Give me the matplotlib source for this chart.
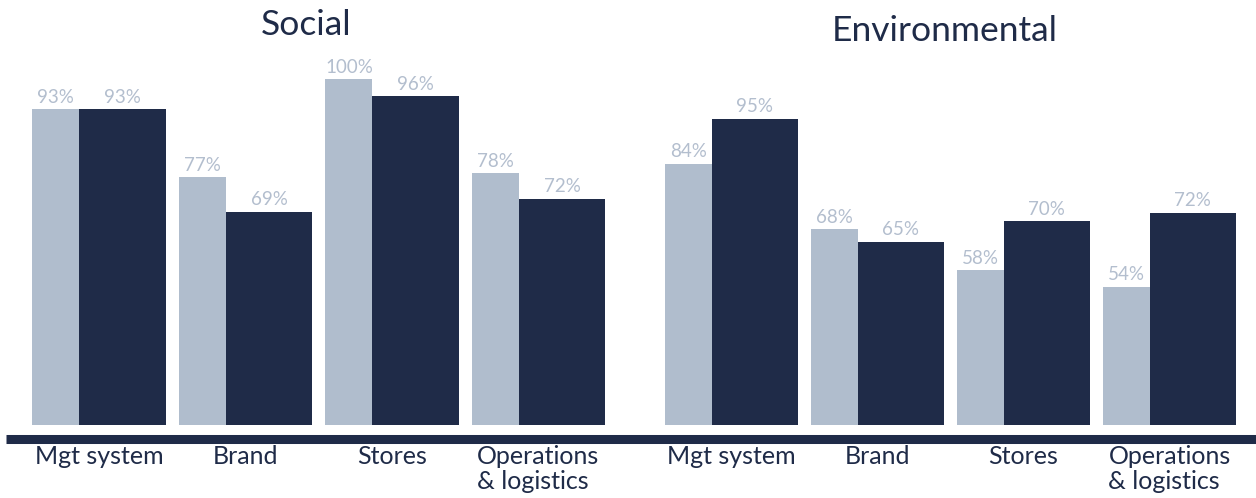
import matplotlib
matplotlib.use("Agg")
import matplotlib.pyplot as plt
from matplotlib.lines import Line2D

plt.rcParams['font.family'] = ['Lato', 'DejaVu Sans']

# data
categories = ["Mgt system", "Brand", "Stores", "Operations\n& logistics"]
social_prev = [93, 77, 100, 78]
social_curr = [93, 69, 96, 72]
env_prev = [84, 68, 58, 54]
env_curr = [95, 65, 70, 72]

LIGHT = "#b0bdcd"
DARK = "#1f2b48"
LABEL = "#b3bece"

W, H = 1256, 498
fig = plt.figure(figsize=(W / 100, H / 100), dpi=100)


def panel(left_px, right_px, prev, curr, title, title_x, title_y, xlim, ylim):
    ax = fig.add_axes([left_px / W, (H - 425) / H, (right_px - left_px) / W, (425 - 60) / H])
    wl, wd = 0.32, 0.588
    half = (wl + wd) / 2
    xs = list(range(len(categories)))
    x_l = [x - half for x in xs]
    x_d = [x - half + wl for x in xs]
    b1 = ax.bar(x_l, prev, width=wl, align='edge', color=LIGHT)
    b2 = ax.bar(x_d, curr, width=wd, align='edge', color=DARK)
    for bars, vals in ((b1, prev), (b2, curr)):
        for b, v in zip(bars, vals):
            ax.annotate(f"{v}%", (b.get_x() + b.get_width() / 2, v),
                        xytext=(0, 2.5), textcoords='offset points',
                        ha='center', va='bottom', fontsize=13.5, color=LABEL)
    ax.set_xlim(*xlim)
    ax.set_ylim(*ylim)
    ax.axis('off')
    for x, c in zip(xs, categories):
        ax.text(x, -0.055, c, transform=ax.get_xaxis_transform(), ha='center', va='top',
                multialignment='left', fontsize=18, color=DARK, linespacing=1.1)
    fig.text(title_x / W, 1 - title_y / H, title, ha='center', va='center',
             fontsize=25.5, color=DARK)


panel(20, 620, social_prev, social_curr, "Social", 306, 25,
      ((20 - 99) / 146.5, (620 - 99) / 146.5), (19.05, 104.5))
panel(640, 1250, env_prev, env_curr, "Environmental", 945, 31,
      ((640 - 731.5) / 146, (1250 - 731.5) / 146), (20.25, 109.3))

# thick baseline across both panels
fig.add_artist(Line2D([6 / W, 1], [1 - 438.5 / H, 1 - 438.5 / H],
                      transform=fig.transFigure, color=DARK, linewidth=6.5,
                      solid_capstyle='butt'))

fig.savefig("out.png", dpi=100)
